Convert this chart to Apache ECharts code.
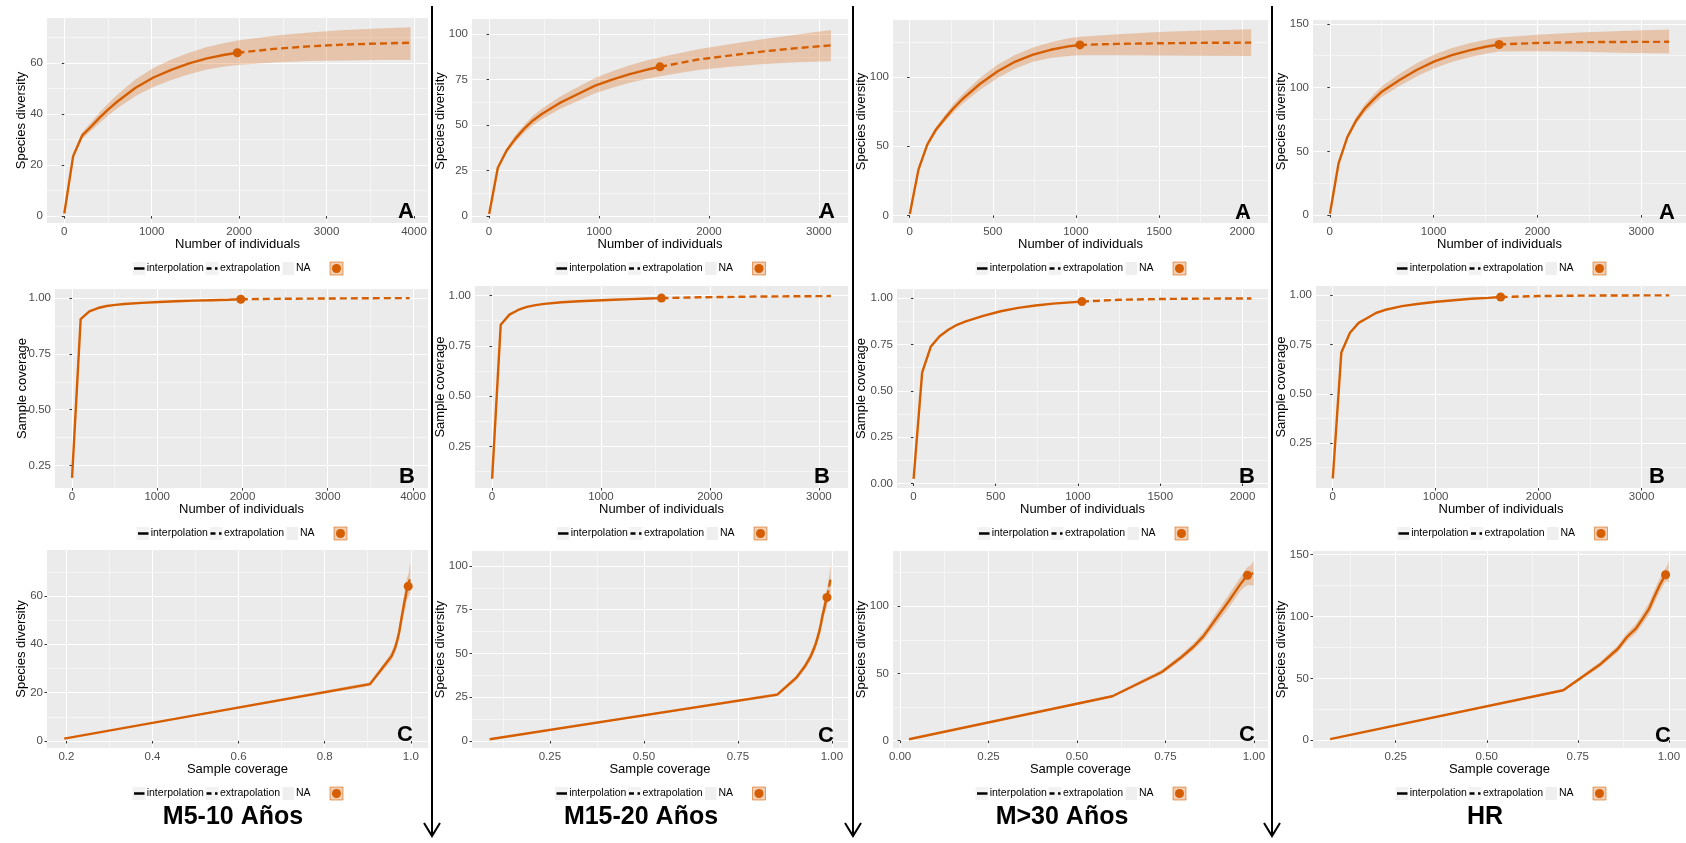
<!DOCTYPE html>
<html>
<head>
<meta charset="utf-8">
<title>iNEXT curves</title>
<script src="https://cdn.jsdelivr.net/npm/echarts@6/dist/echarts.min.js"></script>
<style>
  html, body { margin: 0; padding: 0; background: #ffffff; }
  #chart { width: 1686px; height: 843px; }
</style>
</head>
<body>
<div id="chart"></div>
<script>
'use strict';

var groupNames = ['M5-10 Años', 'M15-20 Años', 'M>30 Años', 'HR'];
var panelLetters = ['A', 'B', 'C'];
var legendLabels = ['interpolation', 'extrapolation', 'NA'];

// --- M5-10 Años
var sizeM510 = [1, 102, 204, 306, 408, 510, 612, 816, 1020, 1224, 1428, 1632, 1836, 1980, 2400, 2800, 3200, 3600, 3960];
var divM510 = [1, 23.5, 31.5, 35, 38.7, 42, 45, 50.3, 54.3, 57.3, 59.8, 61.8, 63.2, 64, 65.5, 66.5, 67.2, 67.6, 67.9];
var lowM510 = [1, 22.7, 30.2, 33.3, 36.6, 39.6, 42.3, 47, 50.6, 53.3, 55.6, 57.4, 58.6, 59.2, 60.2, 60.8, 61, 61.1, 61.1];
var uppM510 = [1, 24.3, 32.8, 36.7, 40.8, 44.4, 47.7, 53.6, 58, 61.3, 64, 66.2, 67.8, 68.8, 70.6, 71.9, 72.9, 73.5, 74];
var covM510 = [0.195, 0.905, 0.94, 0.955, 0.964, 0.969, 0.973, 0.978, 0.982, 0.985, 0.988, 0.99, 0.992, 0.994, 0.996, 0.997, 0.998, 0.999, 0.999];
var obsM510 = 1980;

// --- M15-20 Años
var sizeM1520 = [1, 80, 160, 240, 320, 400, 480, 640, 800, 960, 1120, 1280, 1440, 1555, 1900, 2200, 2500, 2800, 3110];
var divM1520 = [1, 26.5, 36, 42.5, 48, 52.5, 56, 62, 66.8, 71.5, 75, 78, 80.5, 82, 86, 88.3, 90.5, 92.3, 93.8];
var lowM1520 = [1, 25.6, 34.6, 40.7, 45.8, 49.9, 53.1, 58.6, 63, 67.3, 70.5, 73.2, 75.4, 76.8, 80.2, 82, 83.5, 84.5, 85];
var uppM1520 = [1, 27.4, 37.4, 44.3, 50.2, 55.1, 58.9, 65.4, 70.6, 75.7, 79.5, 82.8, 85.6, 87.2, 91.6, 94.5, 97.3, 99.8, 102.3];
var covM1520 = [0.09, 0.855, 0.905, 0.928, 0.943, 0.952, 0.958, 0.966, 0.971, 0.975, 0.979, 0.982, 0.985, 0.987, 0.991, 0.993, 0.995, 0.996, 0.997];
var obsM1520 = 1555;

// --- M>30 Años
var sizeM30 = [1, 53, 106, 159, 212, 265, 318, 424, 530, 636, 742, 848, 954, 1024, 1250, 1500, 1750, 2054];
var divM30 = [1, 33, 51, 62, 70, 77.5, 84, 95, 104, 111, 116, 119.5, 122, 123, 123.8, 124.2, 124.5, 124.7];
var lowM30 = [1, 32, 49.4, 60, 67.5, 74.5, 80.5, 90.7, 99.2, 106, 110.8, 113.6, 115, 115.5, 115.6, 115.4, 115.2, 115];
var uppM30 = [1, 34, 52.6, 64, 72.5, 80.5, 87.5, 99.3, 108.8, 116, 121.2, 125, 127.8, 129, 130.8, 132.3, 133.4, 134.3];
var covM30 = [0.025, 0.6, 0.74, 0.795, 0.83, 0.857, 0.875, 0.905, 0.93, 0.948, 0.961, 0.971, 0.978, 0.982, 0.992, 0.996, 0.998, 0.999];
var obsM30 = 1024;

// --- HR
var sizeHR = [1, 84, 168, 252, 336, 420, 504, 672, 840, 1008, 1176, 1344, 1512, 1631, 2000, 2400, 2800, 3268];
var divHR = [1, 40.5, 61, 74, 83.5, 90.5, 97, 106, 114, 120.5, 125.5, 129.2, 132.2, 133.8, 135, 135.6, 135.8, 135.9];
var lowHR = [1, 39.5, 59, 71.2, 80.2, 86.7, 92.8, 101.2, 108.8, 115.1, 120, 123.7, 126.7, 128.3, 128.5, 128.1, 127.3, 126.7];
var uppHR = [1, 41.5, 63, 76.8, 86.8, 94.3, 101.2, 110.8, 119.2, 125.9, 131, 134.7, 137.7, 139.3, 141.5, 143.1, 144.3, 145.5];
var covHR = [0.07, 0.71, 0.81, 0.86, 0.885, 0.91, 0.925, 0.945, 0.957, 0.967, 0.975, 0.982, 0.987, 0.991, 0.996, 0.998, 0.999, 0.9995];
var obsHR = 1631;

// axis limits / breaks (ggplot expands 5% each side)
var sizeLimitsA = [[-197, 4160], [-155, 3265], [-100, 2155], [-162, 3431]];
var sizeLimitsB = [[-199, 4176], [-156, 3267], [-100, 2155], [-162, 3431]];
var sizeSteps = [1000, 1000, 500, 1000];
var divLimitsA = [[-2.7, 77.6], [-3.9, 108.3], [-5.5, 141], [-6.2, 153]];
var divLimitsC = [[-2.9, 79], [-4, 108.5], [-5.5, 141], [-6.2, 153]];
var divSteps = [20, 25, 50, 50];
var covLimitsB = [[0.15, 1.04], [0.044, 1.047], [-0.024, 1.05], [0.022, 1.047]];
var covLimitsC = [[0.155, 1.04], [0.043, 1.043], [-0.02, 1.04], [0.023, 1.047]];
var covStepsC = [0.2, 0.25, 0.25, 0.25];
var covDigitsC = [1, 2, 2, 2];

// layout: [left, top, width, height] of every panel, by column then row
var panelBoxes = [
  [[47, 18, 381, 205], [55, 289, 373, 199], [47, 550, 381, 198]],
  [[472, 19, 376, 204], [475, 286, 373, 202], [472, 551, 376, 197]],
  [[893, 20, 375, 203], [897, 289, 371, 199], [893, 551, 375, 197]],
  [[1313, 20, 375, 203], [1316, 286, 372, 202], [1313, 551, 375, 197]]
];
var yNameGaps = [[19, 26, 19], [25, 28, 25], [25.5, 29, 25.5], [25.5, 28, 25.5]];
var letterSpots = [
  [[406, 212], [407, 477], [405, 735]],
  [[827, 212], [822, 477], [826, 736]],
  [[1243, 213], [1247, 477], [1247, 735]],
  [[1667, 213], [1657, 477], [1663, 736]]
];
var dividerX = [432, 853, 1272];
var titleCentersX = [233, 641, 1062, 1485];

var FONT = '"Liberation Sans", Arial, Helvetica, sans-serif';
var ORANGE = '#D55E00';
var RIBBON = 'rgba(213, 94, 0, 0.27)';

var groups = [
  {size: sizeM510, div: divM510, low: lowM510, upp: uppM510, cov: covM510, obs: obsM510},
  {size: sizeM1520, div: divM1520, low: lowM1520, upp: uppM1520, cov: covM1520, obs: obsM1520},
  {size: sizeM30, div: divM30, low: lowM30, upp: uppM30, cov: covM30, obs: obsM30},
  {size: sizeHR, div: divHR, low: lowHR, upp: uppHR, cov: covHR, obs: obsHR}
];

function tickFormatter(step, digits) {
  return function (v) {
    var k = v / step;
    if (Math.abs(k - Math.round(k)) > 1e-6) {
      return '';
    }
    return digits ? v.toFixed(digits) : String(Math.round(v));
  };
}

// breaks that fall inside the limits (no marks on the panel edges)
function breaksWithin(limits, step) {
  var out = [];
  for (var k = Math.ceil(limits[0] / step - 1e-9); k * step <= limits[1] + 1e-9; k++) {
    out.push(Math.round(k * step * 1e6) / 1e6);
  }
  return out;
}

function valueAxis(gridIndex, limits, step, digits, name, gap, isY) {
  var breaks = breaksWithin(limits, step);
  return {
    type: 'value',
    gridIndex: gridIndex,
    min: limits[0],
    max: limits[1],
    minInterval: step,
    maxInterval: step,
    splitNumber: 4,
    name: name,
    nameLocation: 'middle',
    nameGap: gap,
    nameMoveOverlap: false,
    nameTextStyle: {color: '#000000', fontSize: 13, fontFamily: FONT},
    axisLine: {show: false},
    axisTick: {show: true, length: 2.5, customValues: breaks, lineStyle: {color: '#333333', width: 1}},
    axisLabel: {color: '#4D4D4D', fontSize: 11.5, fontFamily: FONT, margin: isY ? 4 : 3, customValues: breaks, formatter: tickFormatter(step, digits)},
    splitLine: {show: true, lineStyle: {color: '#FFFFFF', width: 1.1}},
    minorTick: {show: false, splitNumber: 2},
    minorSplitLine: {show: true, lineStyle: {color: '#FFFFFF', width: 0.5}}
  };
}

function pairs(xs, ys, keep) {
  var out = [];
  xs.forEach(function (x, i) {
    if (keep(i)) {
      out.push([x, ys[i]]);
    }
  });
  return out;
}

function ribbonSeries(gi, xs, los, his) {
  return {
    type: 'custom',
    xAxisIndex: gi,
    yAxisIndex: gi,
    silent: true,
    z: 1,
    data: xs.map(function (x, i) { return [x, los[i], his[i]]; }),
    encode: {x: 0, y: [1, 2]},
    renderItem: function (params, api) {
      if (params.dataIndex !== 0) {
        return;
      }
      var pts = [];
      for (var i = 0; i < xs.length; i++) {
        pts.push(api.coord([xs[i], his[i]]));
      }
      for (var j = xs.length - 1; j >= 0; j--) {
        pts.push(api.coord([xs[j], los[j]]));
      }
      return {type: 'polygon', shape: {points: pts}, style: {fill: RIBBON}};
    }
  };
}

function curveSeries(gi, data, dashed) {
  return {
    type: 'line',
    xAxisIndex: gi,
    yAxisIndex: gi,
    data: data,
    showSymbol: false,
    symbol: 'none',
    silent: true,
    z: 3,
    lineStyle: {color: ORANGE, width: 2.4, type: dashed ? [7, 4] : 'solid'}
  };
}

function pointSeries(gi, pt) {
  return {
    type: 'scatter',
    xAxisIndex: gi,
    yAxisIndex: gi,
    data: [pt],
    symbol: 'circle',
    symbolSize: 9,
    silent: true,
    z: 4,
    itemStyle: {color: ORANGE, opacity: 1}
  };
}

function legendGroup(cx, cy) {
  var txt = function (x, s) {
    return {type: 'text', x: x, y: 0, style: {text: s, fontSize: 10.5, fontFamily: FONT, fill: '#000000', align: 'left', verticalAlign: 'middle'}};
  };
  return {
    type: 'group', x: cx, y: cy, silent: true,
    children: [
      {type: 'rect', shape: {x: -105, y: -6.5, width: 13, height: 13}, style: {fill: '#F2F2F2'}},
      {type: 'line', shape: {x1: -103.5, y1: 0, x2: -93, y2: 0}, style: {stroke: '#000000', lineWidth: 2.5}},
      txt(-90.8, legendLabels[0]),
      {type: 'rect', shape: {x: -32, y: -6.5, width: 13, height: 13}, style: {fill: '#F2F2F2'}},
      {type: 'line', shape: {x1: -31, y1: 0, x2: -20, y2: 0}, style: {stroke: '#000000', lineWidth: 2.5, lineDash: [5, 3.5]}},
      txt(-17.5, legendLabels[1]),
      {type: 'rect', shape: {x: 45, y: -6.5, width: 11.5, height: 13}, style: {fill: '#EFEFEF'}},
      txt(58.5, legendLabels[2]),
      {type: 'rect', shape: {x: 92.5, y: -6.5, width: 13, height: 13}, style: {fill: 'rgba(213, 94, 0, 0.3)', stroke: 'rgba(213, 94, 0, 0.55)', lineWidth: 1}},
      {type: 'circle', shape: {cx: 99, cy: 0, r: 4.5}, style: {fill: ORANGE}}
    ]
  };
}

var option = {
  animation: false,
  backgroundColor: '#FFFFFF',
  textStyle: {fontFamily: FONT},
  grid: [],
  xAxis: [],
  yAxis: [],
  series: [],
  graphic: []
};

groups.forEach(function (g, c) {
  var obsIdx = g.size.indexOf(g.obs);
  var isInterp = function (i) { return i <= obsIdx; };
  var isExtrap = function (i) { return i >= obsIdx; };

  panelBoxes[c].forEach(function (box, r) {
    var gi = c * 3 + r;
    option.grid.push({
      left: box[0], top: box[1], width: box[2], height: box[3],
      show: true, backgroundColor: '#EBEBEB', borderWidth: 0, containLabel: false
    });

    if (r === 0) {
      option.xAxis.push(valueAxis(gi, sizeLimitsA[c], sizeSteps[c], 0, 'Number of individuals', 15, false));
      option.yAxis.push(valueAxis(gi, divLimitsA[c], divSteps[c], 0, 'Species diversity', yNameGaps[c][r], true));
      option.series.push(ribbonSeries(gi, g.size, g.low, g.upp));
      option.series.push(curveSeries(gi, pairs(g.size, g.div, isInterp), false));
      option.series.push(curveSeries(gi, pairs(g.size, g.div, isExtrap), true));
      option.series.push(pointSeries(gi, [g.size[obsIdx], g.div[obsIdx]]));
    } else if (r === 1) {
      option.xAxis.push(valueAxis(gi, sizeLimitsB[c], sizeSteps[c], 0, 'Number of individuals', 15, false));
      option.yAxis.push(valueAxis(gi, covLimitsB[c], 0.25, 2, 'Sample coverage', yNameGaps[c][r], true));
      option.series.push(curveSeries(gi, pairs(g.size, g.cov, isInterp), false));
      option.series.push(curveSeries(gi, pairs(g.size, g.cov, isExtrap), true));
      option.series.push(pointSeries(gi, [g.size[obsIdx], g.cov[obsIdx]]));
    } else {
      option.xAxis.push(valueAxis(gi, covLimitsC[c], covStepsC[c], covDigitsC[c], 'Sample coverage', 15, false));
      option.yAxis.push(valueAxis(gi, divLimitsC[c], divSteps[c], 0, 'Species diversity', yNameGaps[c][r], true));
      option.series.push(ribbonSeries(gi, g.cov, g.low, g.upp));
      option.series.push(curveSeries(gi, pairs(g.cov, g.div, isInterp), false));
      option.series.push(curveSeries(gi, pairs(g.cov, g.div, isExtrap), true));
      option.series.push(pointSeries(gi, [g.cov[obsIdx], g.div[obsIdx]]));
    }

    // legend strip under each panel
    option.graphic.push(legendGroup(box[0] + box[2] / 2, box[1] + box[3] + 45.5));

    // panel letter
    option.graphic.push({
      type: 'text', x: letterSpots[c][r][0], y: letterSpots[c][r][1], silent: true, z: 10,
      style: {text: panelLetters[r], fontSize: 22, fontWeight: 'bold', fontFamily: FONT, fill: '#000000', align: 'center', verticalAlign: 'middle'}
    });
  });

  // group title
  option.graphic.push({
    type: 'text', x: titleCentersX[c], y: 817, silent: true,
    style: {text: groupNames[c], fontSize: 25, fontWeight: 'bold', fontFamily: FONT, fill: '#000000', align: 'center', verticalAlign: 'middle'}
  });
});

// vertical dividers with arrow heads
dividerX.forEach(function (x) {
  option.graphic.push({
    type: 'line', silent: true,
    shape: {x1: x, y1: 6, x2: x, y2: 835},
    style: {stroke: '#000000', lineWidth: 2}
  });
  option.graphic.push({
    type: 'polyline', silent: true,
    shape: {points: [[x - 8, 823], [x, 836], [x + 8, 823]]},
    style: {stroke: '#000000', lineWidth: 2, fill: null}
  });
});

var myChart = echarts.init(document.getElementById('chart'), null, {renderer: 'canvas'});
myChart.setOption(option);
window.addEventListener('resize', function () {
  myChart.resize();
});
</script>
</body>
</html>
